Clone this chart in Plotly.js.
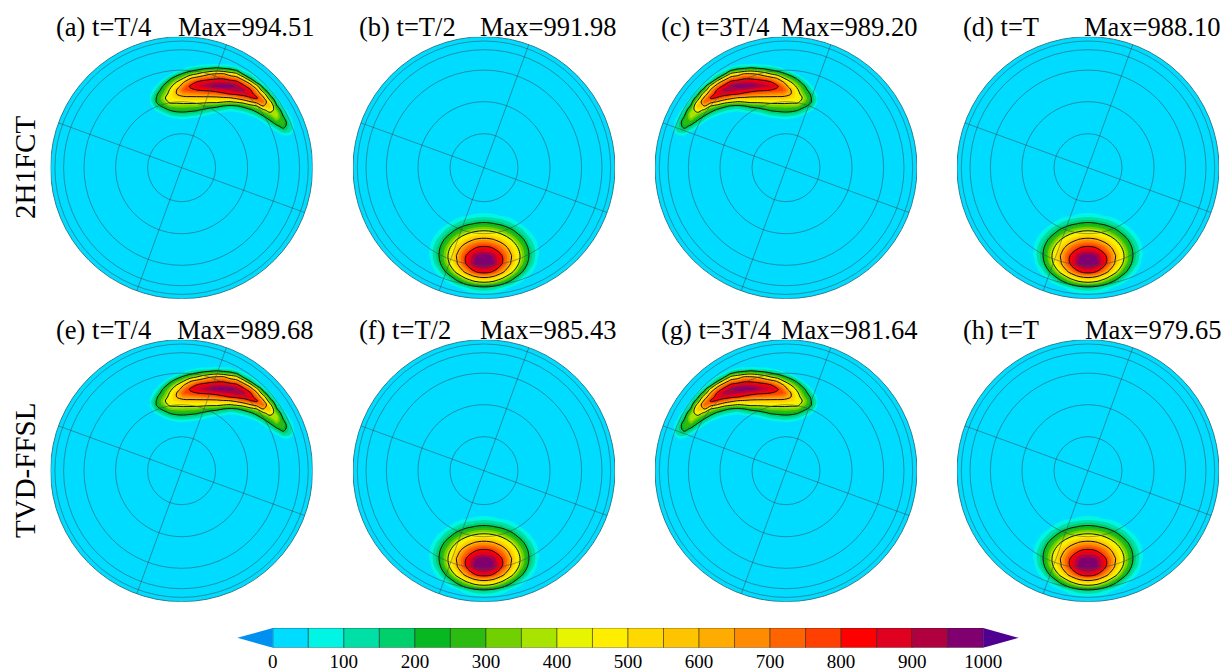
<!DOCTYPE html>
<html><head><meta charset="utf-8">
<script src="https://cdn.plot.ly/plotly-3.0.1.min.js"></script>
<style>html,body{margin:0;padding:0;background:#fff}#c{width:1231px;height:671px}</style>
</head><body><div id="c"></div>
<script>
// Contour fields (x,y = offset from disk centre, y downward)
const bellX=[-63,-54,-45,-36,-27,-18,-9,0,9,18,27,36,45,54,63];
const bellY=[40,48,56,64,72,80,88,96,104,112,120,128];
const bellZ=[
[0,0,0,0,0,0,2,4,2,0,0,0,0,0,0],
[0,0,0,2,20,44,65,74,65,44,20,2,0,0,0],
[0,0,10,51,110,167,207,222,207,167,110,51,10,0,0],
[0,5,57,146,250,340,403,423,403,340,250,146,57,5,0],
[0,28,124,260,405,530,612,640,612,530,405,260,124,28,0],
[0,52,180,355,540,695,795,830,795,695,540,355,180,52,0],
[0,55,200,400,615,800,945,975,945,800,615,400,200,55,0],
[0,33,165,365,590,800,965,998,965,800,590,365,165,33,0],
[0,5,85,245,445,645,794,850,794,645,445,245,85,5,0],
[0,0,12,88,220,355,470,510,470,355,220,88,12,0,0],
[0,0,0,1,33,90,142,165,142,90,33,1,0,0,0],
[0,0,0,0,0,0,0,1,0,0,0,0,0,0,0]];
const bananaAX=[-31.6,-24.9,-18.3,-11.6,-4.9,1.7,8.4,15.1,21.7,28.4,35.1,41.7,48.4,55.1,61.7,68.4,75.1,81.7,88.4,95.1,101.7,108.4,115.1];
const bananaCX=[-115.1,-108.4,-101.7,-95.1,-88.4,-81.7,-75.1,-68.4,-61.7,-55.1,-48.4,-41.7,-35.1,-28.4,-21.7,-15.1,-8.4,-1.7,4.9,11.6,18.3,24.9,31.6];
const bananaY=[-105.7,-101.7,-97.7,-93.7,-89.7,-85.7,-81.7,-77.7,-73.7,-69.7,-65.7,-61.7,-57.7,-53.7,-49.7,-45.7,-41.7,-37.7,-33.7,-29.7];
const bananaAZ=[
[0,0,0,0,0,0,0,0,0,0,0,0,0,0,0,0,0,0,0,0,0,0,0],
[0,0,0,0,0,0,35,62,77,91,105,87,75,30,0,0,0,0,0,0,0,0,0],
[0,0,0,0,25,76,146,200,250,280,325,275,244,175,60,15,0,0,0,0,0,0,0],
[0,0,0,35,138,230,317,400,500,585,620,625,511,440,180,85,0,0,0,0,0,0,0],
[0,0,30,159,274,379,575,653,720,750,773,775,723,667,480,190,58,0,0,0,0,0,0],
[0,5,120,265,400,582,705,807,848,875,895,890,865,835,700,510,158,30,0,0,0,0,0],
[0,65,213,355,500,684,813,890,920,950,980,995,985,941,843,700,455,121,20,0,0,0,0],
[0,125,263,416,600,745,782,800,820,832,863,885,905,945,930,827,633,275,70,0,0,0,0],
[35,185,313,449,600,658,673,680,689,700,723,767,808,833,852,869,733,500,159,10,0,0,0],
[78,209,363,482,514,560,560,560,558,556,556,571,583,640,720,783,825,637,300,62,0,0,0],
[63,210,321,428,429,440,440,440,432,428,433,400,380,418,467,575,657,727,460,137,5,0,0],
[10,162,228,324,336,338,333,327,300,257,233,200,175,192,236,323,400,600,580,217,50,0,0],
[0,72,148,210,240,246,233,218,179,143,125,105,75,92,125,171,259,370,475,325,108,0,0],
[0,5,64,121,150,157,143,129,93,57,35,20,10,15,40,86,148,250,346,395,166,40,0],
[0,0,0,40,64,71,57,44,20,0,0,0,0,0,0,10,58,148,254,362,224,69,0],
[0,0,0,0,0,0,0,0,0,0,0,0,0,0,0,0,0,58,164,269,283,97,0],
[0,0,0,0,0,0,0,0,0,0,0,0,0,0,0,0,0,0,79,178,243,127,0],
[0,0,0,0,0,0,0,0,0,0,0,0,0,0,0,0,0,0,10,88,168,133,0],
[0,0,0,0,0,0,0,0,0,0,0,0,0,0,0,0,0,0,0,15,74,66,0],
[0,0,0,0,0,0,0,0,0,0,0,0,0,0,0,0,0,0,0,0,5,0,0]];
const bananaCZ=[
[0,0,0,0,0,0,0,0,0,0,0,0,0,0,0,0,0,0,0,0,0,0,0],
[0,0,0,0,0,0,0,0,0,30,75,87,105,91,77,62,35,0,0,0,0,0,0],
[0,0,0,0,0,0,0,15,60,175,244,275,325,280,250,200,146,76,25,0,0,0,0],
[0,0,0,0,0,0,0,85,180,440,511,625,620,585,500,400,317,230,138,35,0,0,0],
[0,0,0,0,0,0,58,190,480,667,723,775,773,750,720,653,575,379,274,159,30,0,0],
[0,0,0,0,0,30,158,510,700,835,865,890,895,875,848,807,705,582,400,265,120,5,0],
[0,0,0,0,20,121,455,700,843,941,985,995,980,950,920,890,813,684,500,355,213,65,0],
[0,0,0,0,70,275,633,827,930,945,905,885,863,832,820,800,782,745,600,416,263,125,0],
[0,0,0,10,159,500,733,869,852,833,808,767,723,700,689,680,673,658,600,449,313,185,35],
[0,0,0,62,300,637,825,783,720,640,583,571,556,556,558,560,560,560,514,482,363,209,78],
[0,0,5,137,460,727,657,575,467,418,380,400,433,428,432,440,440,440,429,428,321,210,63],
[0,0,50,217,580,600,400,323,236,192,175,200,233,257,300,327,333,338,336,324,228,162,10],
[0,0,108,325,475,370,259,171,125,92,75,105,125,143,179,218,233,246,240,210,148,72,0],
[0,40,166,395,346,250,148,86,40,15,10,20,35,57,93,129,143,157,150,121,64,5,0],
[0,69,224,362,254,148,58,10,0,0,0,0,0,0,20,44,57,71,64,40,0,0,0],
[0,97,283,269,164,58,0,0,0,0,0,0,0,0,0,0,0,0,0,0,0,0,0],
[0,127,243,178,79,0,0,0,0,0,0,0,0,0,0,0,0,0,0,0,0,0,0],
[0,133,168,88,10,0,0,0,0,0,0,0,0,0,0,0,0,0,0,0,0,0,0],
[0,66,74,15,0,0,0,0,0,0,0,0,0,0,0,0,0,0,0,0,0,0,0],
[0,0,5,0,0,0,0,0,0,0,0,0,0,0,0,0,0,0,0,0,0,0,0]];

const panelLabels=['(a) t=T/4','(b) t=T/2','(c) t=3T/4','(d) t=T','(e) t=T/4','(f) t=T/2','(g) t=3T/4','(h) t=T'];
const panelMax=['Max=994.51','Max=991.98','Max=989.20','Max=988.10','Max=989.68','Max=985.43','Max=981.64','Max=979.65'];
const rowLabels=['2H1FCT','TVD-FFSL'];
const ringRadii=[34,66,97.6,118,126.7];
const spokeAngles=[70,160,250,340];
const bandEdges=[0,50,100,150,200,250,300,350,400,450,500,550,600,650,700,750,800,850,900,950];
const bandColors=['#00dcff','#00f5e4','#00e0a6','#00d06c','#08b820','#2cbb10','#70d000','#a8e400','#e8f500','#ffee00','#ffd800','#ffc400','#ffac00','#ff8c00','#ff6400','#ff4000','#ff0000','#e00020','#b00040','#800070'];
const lowColor='#0090f0', highColor='#500090';
const cbTicks=[0,100,200,300,400,500,600,700,800,900,1000];

// layout in pixels
const W=1231,H=671,R=131;
const cxs=[181.6,484,786,1088,181.6,484,786,1088];
const cys=[167.7,167.7,167.7,167.7,470.7,470.7,470.7,470.7];
const labelX=[55,358,660,962,55,358,660,962];
const maxX=[177,479,780,1083,176,479,780,1084];
const titleY=[27,27,27,27,330,330,330,330];
const fields=[
 [bananaAX,bananaY,bananaAZ],[bellX,bellY,bellZ],[bananaCX,bananaY,bananaCZ],[bellX,bellY,bellZ],
 [bananaAX,bananaY,bananaAZ],[bellX,bellY,bellZ],[bananaCX,bananaY,bananaCZ],[bellX,bellY,bellZ]];

const stops=[[0,'rgba(0,220,255,0)']];
bandColors.slice(1).forEach((c,i)=>stops.push([(i+1)/20,c]));
stops.push([1,highColor]);

const ff='"Liberation Serif","Times New Roman",serif';
const traces=[],shapes=[],annotations=[];
const layout={width:W,height:H,margin:{l:0,r:0,t:0,b:0},paper_bgcolor:'#fff',plot_bgcolor:'rgba(0,0,0,0)',showlegend:false,font:{family:ff,color:'#000'}};
const gridCol='rgba(60,70,80,0.5)';
fields.forEach((f,i)=>{
  const n=i+1,ax=n===1?'':n,xa='x'+ax,ya='y'+ax;
  const hide={visible:false,fixedrange:true,showgrid:false,zeroline:false};
  layout['xaxis'+ax]={...hide,domain:[(cxs[i]-R)/W,(cxs[i]+R)/W],range:[-R,R],anchor:ya};
  layout['yaxis'+ax]={...hide,domain:[1-(cys[i]+R)/H,1-(cys[i]-R)/H],range:[R,-R],anchor:xa};
  traces.push({type:'contour',x:f[0],y:f[1],z:f[2],xaxis:xa,yaxis:ya,autocontour:false,
    contours:{coloring:'fill',start:50,end:1000,size:50,showlines:false},
    colorscale:stops,showscale:false,line:{width:0,smoothing:1},hoverinfo:'skip'});
  traces.push({type:'contour',x:f[0],y:f[1],z:f[2],xaxis:xa,yaxis:ya,autocontour:false,
    contours:{coloring:'none',start:200,end:800,size:200},showscale:false,
    line:{color:'#111',width:1,smoothing:1},hoverinfo:'skip'});
  shapes.push({type:'circle',xref:xa,yref:ya,x0:-R,x1:R,y0:-R,y1:R,layer:'below',fillcolor:bandColors[0],line:{color:'#2a7f8f',width:1}});
  ringRadii.forEach(r=>shapes.push({type:'circle',xref:xa,yref:ya,x0:-r,x1:r,y0:-r,y1:r,layer:'above',line:{color:gridCol,width:1}}));
  spokeAngles.forEach(a=>{const t=a*Math.PI/180;
    shapes.push({type:'line',xref:xa,yref:ya,x0:0,y0:0,x1:R*Math.cos(t),y1:-R*Math.sin(t),layer:'above',line:{color:gridCol,width:1}});});
  const txt=(s,x,y,anchor)=>annotations.push({text:s,xref:'paper',yref:'paper',x:x/W,y:1-y/H,xanchor:anchor,yanchor:'middle',showarrow:false,font:{family:ff,size:26.5,color:'#000'},borderpad:0});
  txt(panelLabels[i],labelX[i],titleY[i],'left');
  txt(panelMax[i],maxX[i],titleY[i],'left');
});
rowLabels.forEach((s,i)=>annotations.push({text:s,xref:'paper',yref:'paper',x:25/W,y:1-[168,471][i]/H,xanchor:'center',yanchor:'middle',textangle:-90,showarrow:false,font:{family:ff,size:29,color:'#000'},borderpad:0}));

// colour bar
const cbL=237.3,cbR=1018.7,cbT=628,cbB=647.7;
layout.xaxis9={domain:[cbL/W,cbR/W],range:[-50,1050],anchor:'y9',fixedrange:true,showgrid:false,zeroline:false,showline:false,ticks:'',tickmode:'array',tickvals:cbTicks,ticktext:cbTicks.map(String),tickfont:{family:ff,size:19,color:'#000'}};
layout.yaxis9={domain:[1-cbB/H,1-cbT/H],range:[0,1],anchor:'x9',visible:false,fixedrange:true,showgrid:false,zeroline:false};
traces.push({type:'bar',x:bandEdges.map(e=>e+25),y:bandEdges.map(()=>1),width:bandEdges.map(()=>50),xaxis:'x9',yaxis:'y9',
  marker:{color:bandColors,line:{color:'rgba(30,30,30,0.5)',width:1}},hoverinfo:'skip'});
traces.push({type:'scatter',mode:'lines',x:[0,-50,0,0],y:[0,0.5,1,0],fill:'toself',fillcolor:lowColor,line:{width:0,color:lowColor},xaxis:'x9',yaxis:'y9',hoverinfo:'skip'});
traces.push({type:'scatter',mode:'lines',x:[1000,1050,1000,1000],y:[0,0.5,1,0],fill:'toself',fillcolor:highColor,line:{width:0,color:highColor},xaxis:'x9',yaxis:'y9',hoverinfo:'skip'});

layout.shapes=shapes;layout.annotations=annotations;
Plotly.newPlot('c',traces,layout,{staticPlot:true,displayModeBar:false});
</script></body></html>
